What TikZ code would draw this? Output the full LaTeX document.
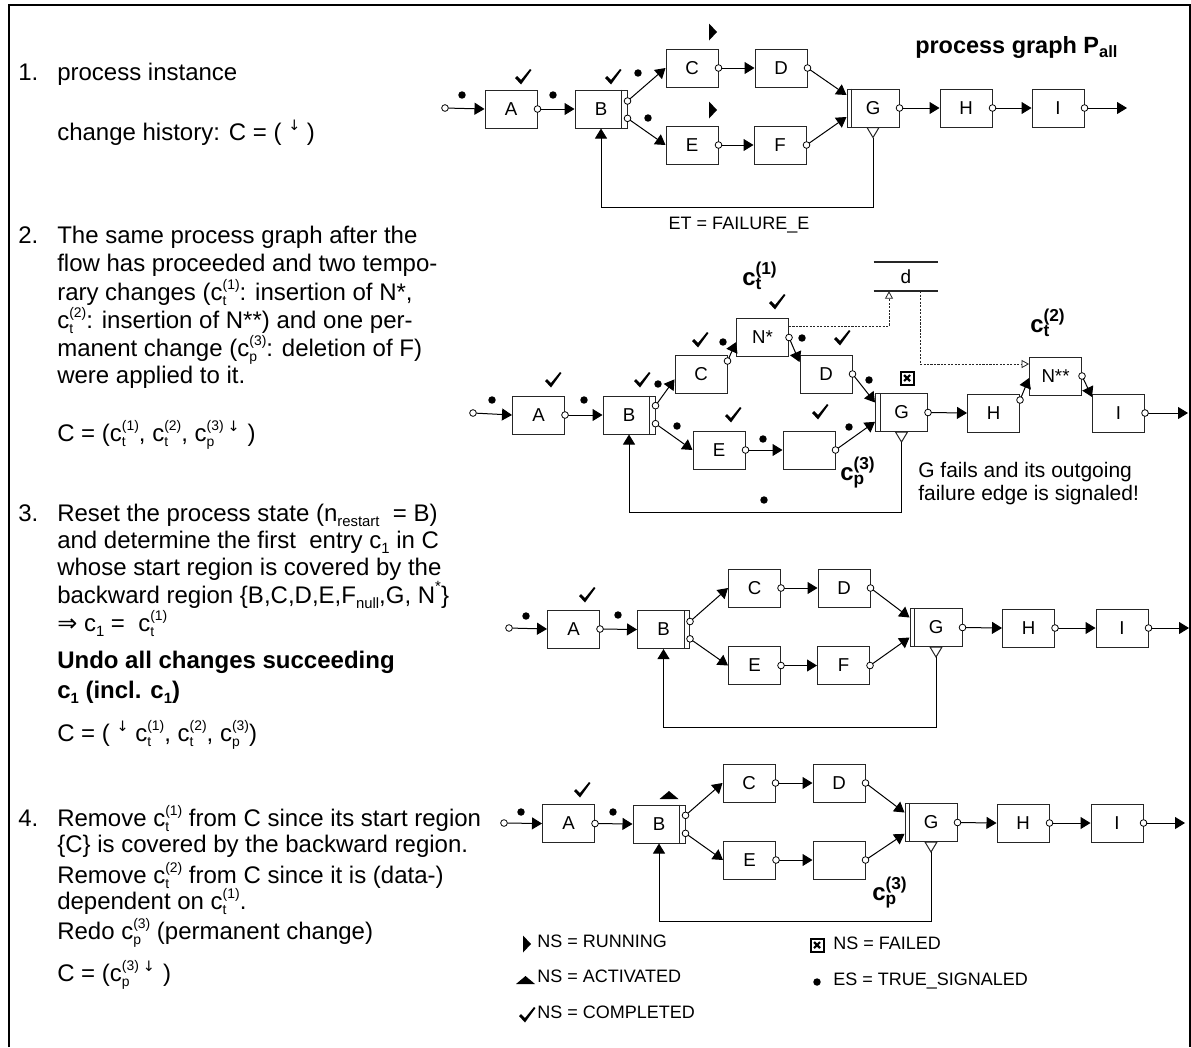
\documentclass[tikz,border=0pt]{standalone}
\usepackage{fontspec}
\setmainfont{Liberation Sans}
\newfontfamily\djv{DejaVu Sans}
\usetikzlibrary{arrows.meta}
\makeatletter
% smaller size relative to the current one
\newcommand\scs[1][0.6]{\fontsize{\fpeval{round(#1*\f@size,2)}}{0}\selectfont}
\makeatother
% stacked subscript / superscript after a letter
\newcommand\supsub[3][0.58]{\begingroup
  \setbox0=\hbox{\scs[#1]#2}\setbox2=\hbox{\scs[#1]#3}%
  \ifdim\wd0>\wd2 \dimen0=\wd0 \else \dimen0=\wd2 \fi
  \rlap{\lower0.2em\box0}\rlap{\raise0.45em\box2}\hskip\dimen0\endgroup}
\newcommand\sbs[2][0.62]{\lower0.2em\hbox{\scs[#1]#2}}
\newcommand\sps[2][0.62]{\raise0.5em\hbox{\scs[#1]#2}}
\newcommand\dn{\raise0.42em\hbox{\scs[0.6]\djv ↓}}
\begin{document}
\begin{tikzpicture}[x=0.75pt,y=-0.75pt,
  pbox/.style={draw=black!85,line width=0.75pt,minimum width=39pt,minimum height=28.5pt,
    inner sep=0pt,font=\fontsize{14}{16}\selectfont},
  bar/.style={draw=black!85,line width=0.75pt},
  port/.style={circle,draw=black,fill=white,line width=0.6pt,inner sep=0pt,minimum size=5pt},
  flow/.style={draw=black,line width=0.75pt,-{Triangle[length=7.5pt,width=9pt]}},
  dep/.style={draw=black!85,line width=0.6pt,dash pattern=on 1.6pt off 1pt,
    -{Triangle[open,length=5.5pt,width=6pt,fill=white]}},
  txt/.style={anchor=base west,inner sep=0pt,font=\fontsize{18}{20}\selectfont},
  btxt/.style={anchor=base west,inner sep=0pt,font=\bfseries\fontsize{18}{20}\selectfont},
  lg/.style={anchor=base west,inner sep=0pt,font=\fontsize{13.5}{15}\selectfont},
  lab/.style={anchor=base west,inner sep=0pt,font=\bfseries\fontsize{18}{20}\selectfont},
  chkmark/.pic={\fill (-8,1) -- (-6,-1) -- (-2,3) -- (7,-8) -- (8.5,-7) -- (-2,7.5) -- cycle;},
  runmark/.pic={\fill (-4,-8.5) -- (4,0) -- (-4,8.5) -- cycle;},
  actmark/.pic={\fill (-9.5,4) -- (9.5,4) -- (0,-4) -- cycle;},
  failmark/.pic={\draw[line width=1.5pt] (-6.5,-6.5) rectangle (6.5,6.5);
    \draw[line width=1.6pt] (-3,-3) -- (3,3) (-3,3) -- (3,-3);},
]
\useasboundingbox (0,0) rectangle (1191,1047);
% frame
\draw[line width=1.9pt] (9,1047) -- (9,5) -- (1190,5) -- (1190,1047);

% ---------------- left column text ----------------
\node[txt] (n1) at (18,80.5) {1.};
\node[txt] (t1a) at (57,80.5) {process instance};
\node[txt] (t1b) at (57,140.5) {change history: C = ( \dn\ )};

\node[txt] (n2) at (18,243.5) {2.};
\node[txt] (t2a) at (57,243.5) {The same process graph after the};
\node[txt] (t2b) at (57,271.5) {flow has proceeded and two tempo-};
\node[txt] (t2c) at (57,300.5) {rary changes (c\supsub{t}{(1)}: insertion of N*,};
\node[txt] (t2d) at (57,328.5) {c\supsub{t}{(2)}: insertion of N**) and one per-};
\node[txt] (t2e) at (57,356.5) {manent change (c\supsub{p}{(3)}: deletion of F)};
\node[txt] (t2f) at (57,383.5) {were applied to it.};
\node[txt] (t2g) at (57,441.5) {C = (c\supsub{t}{(1)}, c\supsub{t}{(2)}, c\supsub{p}{(3)}\,\dn\,\,)};

\node[txt] (n3) at (18,521.5) {3.};
\node[txt] (t3a) at (57,521.5) {Reset the process state (n\sbs{restart}\ \ = B)};
\node[txt] (t3b) at (57,548.5) {and determine the first\ \ entry c\sbs{1} in C};
\node[txt] (t3c) at (57,575.5) {whose start region is covered by the};
\node[txt] (t3d) at (57,603.5) {backward region \{B,C,D,E,F\sbs{null},G, N\sps{*}\}};
\node[txt] (t3e) at (57,631.5) {{\djv ⇒} c\sbs{1} =\ \ c\supsub{t}{(1)}};
\node[btxt] (t3f) at (57,668.5) {Undo all changes succeeding};
\node[btxt] (t3g) at (57,698.5) {c\sbs{1} (incl. c\sbs{1})};
\node[txt] (t3h) at (57,741.5) {C = ( \dn\ c\supsub{t}{(1)}, c\supsub{t}{(2)}, c\supsub{p}{(3)})};

\node[txt] (n4) at (18,826.5) {4.};
\node[txt] (t4a) at (57,826.5) {Remove c\supsub{t}{(1)} from C since its start region};
\node[txt] (t4b) at (57,852.5) {\{C\} is covered by the backward region.};
\node[txt] (t4c) at (57,883.5) {Remove c\supsub{t}{(2)} from C since it is (data-)};
\node[txt] (t4d) at (57,909.5) {dependent on c\supsub{t}{(1)}.};
\node[txt] (t4e) at (57,939.5) {Redo c\supsub{p}{(3)} (permanent change)};
\node[txt] (t4f) at (57,981.5) {C = (c\supsub{p}{(3)}\,\dn\,\,)};

% ---------------- graph 1: process graph P_all ----------------
\node[lab,font=\bfseries\fontsize{17.6}{20}\selectfont] (ttl) at (915,53) {process graph P\sbs[0.7]{all}};
\node[port] (s1) at (445,108) {};
\node[pbox] (A1) at (511,109) {A};
\node[pbox] (B1) at (601,109) {B};
\node[pbox] (C1) at (692,68) {C};
\node[pbox] (D1) at (781,68) {D};
\node[pbox] (E1) at (692,145) {E};
\node[pbox] (F1) at (780,145) {F};
\node[pbox] (G1) at (873,108) {G};
\node[pbox] (H1) at (966,108) {H};
\node[pbox] (I1) at (1058,108) {I};
\coordinate (z1) at (1127,108);
\draw[bar] ([xshift=-4.5pt]B1.north east) -- ([xshift=-4.5pt]B1.south east);
\draw[bar] ([xshift=4pt]G1.north west) -- ([xshift=4pt]G1.south west);
\draw[flow] (s1) -- (A1.west);
\draw[flow] (A1.east) -- (B1.west);
\draw[flow] ([yshift=6pt]B1.east) -- (C1.west);
\draw[flow] ([yshift=-7pt]B1.east) -- (E1.west);
\draw[flow] (C1.east) -- (D1.west);
\draw[flow] (E1.east) -- (F1.west);
\draw[flow] (D1.east) -- ([yshift=9.75pt]G1.west);
\draw[flow] (F1.east) -- ([yshift=-6.75pt]G1.west);
\draw[flow] (G1.east) -- (H1.west);
\draw[flow] (H1.east) -- (I1.west);
\draw[flow] (I1.east) -- (z1);
\draw[bar,fill=white] (G1.south) +(-6,0) -- +(6,0) -- +(0,10) -- cycle;
\coordinate (G1t) at ([yshift=-7.5pt]G1.south);
\draw[flow] (G1t) -- ++(0,70) -| (B1.south);
\foreach \n/\a/\s in {A1o/A1/0pt,B1u/B1/6pt,B1d/B1/-7pt,C1o/C1/0pt,D1o/D1/0pt,
  E1o/E1/0pt,F1o/F1/0pt,G1o/G1/0pt,H1o/H1/0pt,I1o/I1/0pt}
  \node[port] (\n) at ([yshift=\s]\a.east) {};
\node[lg,anchor=center] (et) at (739,225) {ET = FAILURE\_E};
\pic at (523,77) {chkmark};
\pic at (613,77) {chkmark};
\pic at (713,32) {runmark};
\pic at (713,110) {runmark};
\foreach \p in {(462,95),(553,95),(638,73),(648,118)} \fill \p circle (2.8pt);

% ---------------- graph 2: after temporary and permanent changes ----------------
\node[port] (s2) at (473,413) {};
\node[pbox] (A2) at (538.5,415) {A};
\node[pbox] (B2) at (629,415) {B};
\node[pbox] (C2) at (701,374) {C};
\node[pbox] (N1) at (762.5,337.5) {N*};
\node[pbox] (D2) at (826,374) {D};
\node[pbox] (E2) at (719,450) {E};
\node[pbox] (X2) at (809,450) {};
\node[pbox] (G2) at (901.5,412.5) {G};
\node[pbox] (H2) at (993.5,413) {H};
\node[pbox] (N2) at (1055.5,376) {N**};
\node[pbox] (I2) at (1118.5,413) {I};
\coordinate (z2) at (1188,413);
\draw[bar] ([xshift=-4.5pt]B2.north east) -- ([xshift=-4.5pt]B2.south east);
\draw[bar] ([xshift=4pt]G2.north west) -- ([xshift=4pt]G2.south west);
\draw[flow] (s2) -- (A2.west);
\draw[flow] (A2.east) -- (B2.west);
\draw[flow] ([yshift=7pt]B2.east) -- ([yshift=-4pt]C2.west);
\draw[flow] ([yshift=-6.5pt]B2.east) -- (E2.west);
\draw[flow] ([yshift=9.75pt]C2.east) -- ([yshift=-3.5pt]N1.west);
\draw[flow] (N1.east) -- ([yshift=9pt]D2.west);
\draw[flow] (D2.east) -- ([yshift=7.5pt]G2.west);
\draw[flow] (E2.east) -- (X2.west);
\draw[flow] (X2.east) -- ([yshift=-7pt]G2.west);
\draw[flow] (G2.east) -- (H2.west);
\draw[flow] ([yshift=9.75pt]H2.east) -- ([yshift=-1.5pt]N2.west);
\draw[flow] (N2.east) -- ([yshift=12pt]I2.west);
\draw[flow] (I2.east) -- (z2);
\draw[bar,fill=white] (G2.south) +(-6,0) -- +(6,0) -- +(0,10) -- cycle;
\coordinate (G2t) at ([yshift=-7.5pt]G2.south);
\draw[flow] (G2t) -- ++(0,70) -| (B2.south);
\foreach \n/\a/\s in {A2o/A2/0pt,B2u/B2/7pt,B2d/B2/-6.5pt,C2o/C2/9.75pt,N1o/N1/0pt,
  D2o/D2/0pt,E2o/E2/0pt,X2o/X2/0pt,G2o/G2/0pt,H2o/H2/9.75pt,N2o/N2/0pt,I2o/I2/0pt}
  \node[port] (\n) at ([yshift=\s]\a.east) {};
% data element d and its data edges
\node[minimum width=48pt,minimum height=21.75pt,inner sep=0pt,font=\fontsize{14.25}{16}\selectfont] (dat) at (906,276.5) {d};
\draw[line width=1.3pt,black!85] (dat.north west) -- (dat.north east);
\draw[line width=1.3pt,black!85] (dat.south west) -- (dat.south east);
\draw[dep] ([yshift=8.6pt]N1.east) -| ([xshift=-12.75pt]dat.south);
\draw[dep] ([xshift=10.5pt]dat.south) |- ([yshift=9pt]N2.west);
\node[lab] (ct1) at (742,285) {c\supsub[0.72]{t}{(1)}};
\node[lab] (ct2) at (1030,332) {c\supsub[0.72]{t}{(2)}};
\node[lab] (cp3) at (840,480) {c\supsub[0.72]{p}{(3)}};
\node[anchor=base west,inner sep=0pt,font=\fontsize{15.75}{18}\selectfont] (gf1) at (918,477) {G fails and its outgoing};
\node[anchor=base west,inner sep=0pt,font=\fontsize{15.75}{18}\selectfont] (gf2) at (918,500) {failure edge is signaled!};
\pic at (907,378) {failmark};
\foreach \p in {(553,380),(642,380),(700,340),(777,302),(842,338),(733,415),(820,412)}
  \pic at \p {chkmark};
\foreach \p in {(492,400),(584,400),(658,384),(723,342),(802,338),(677,426),(763,439),
  (869,380),(849,427),(764,500)} \fill \p circle (2.8pt);

% ---------------- graph 3: state reset ----------------
\node[port] (s3) at (509,628) {};
\node[pbox] (A3) at (573.5,629) {A};
\node[pbox] (B3) at (663.5,629.5) {B};
\node[pbox] (C3) at (754.5,588) {C};
\node[pbox] (D3) at (844,588) {D};
\node[pbox] (E3) at (754.5,665.5) {E};
\node[pbox] (F3) at (843.5,665.5) {F};
\node[pbox] (G3) at (936,627.5) {G};
\node[pbox] (H3) at (1028.5,628) {H};
\node[pbox] (I3) at (1122,628) {I};
\coordinate (z3) at (1189,628);
\draw[bar] ([xshift=-4.5pt]B3.north east) -- ([xshift=-4.5pt]B3.south east);
\draw[bar] ([xshift=4pt]G3.north west) -- ([xshift=4pt]G3.south west);
\draw[flow] (s3) -- (A3.west);
\draw[flow] (A3.east) -- (B3.west);
\draw[flow] ([yshift=6pt]B3.east) -- (C3.west);
\draw[flow] ([yshift=-7pt]B3.east) -- (E3.west);
\draw[flow] (C3.east) -- (D3.west);
\draw[flow] (E3.east) -- (F3.west);
\draw[flow] (D3.east) -- ([yshift=7.5pt]G3.west);
\draw[flow] (F3.east) -- ([yshift=-7.5pt]G3.west);
\draw[flow] (G3.east) -- (H3.west);
\draw[flow] (H3.east) -- (I3.west);
\draw[flow] (I3.east) -- (z3);
\draw[bar,fill=white] (G3.south) +(-6,0) -- +(6,0) -- +(0,10) -- cycle;
\coordinate (G3t) at ([yshift=-7.5pt]G3.south);
\draw[flow] (G3t) -- ++(0,70) -| (B3.south);
\foreach \n/\a/\s in {A3o/A3/0pt,B3u/B3/6pt,B3d/B3/-7pt,C3o/C3/0pt,D3o/D3/0pt,
  E3o/E3/0pt,F3o/F3/0pt,G3o/G3/0pt,H3o/H3/0pt,I3o/I3/0pt}
  \node[port] (\n) at ([yshift=\s]\a.east) {};
\pic at (587,595) {chkmark};
\foreach \p in {(526,616),(618,615)} \fill \p circle (2.8pt);

% ---------------- graph 4: after redo of the permanent change ----------------
\node[port] (s4) at (504,823) {};
\node[pbox] (A4) at (568.5,823.5) {A};
\node[pbox] (B4) at (659,824) {B};
\node[pbox] (C4) at (749,783) {C};
\node[pbox] (D4) at (839,783) {D};
\node[pbox] (E4) at (749.5,860) {E};
\node[pbox] (X4) at (839,860) {};
\node[pbox] (G4) at (931,822.5) {G};
\node[pbox] (H4) at (1023,823) {H};
\node[pbox] (I4) at (1117,823) {I};
\coordinate (z4) at (1185,823);
\draw[bar] ([xshift=-4.5pt]B4.north east) -- ([xshift=-4.5pt]B4.south east);
\draw[bar] ([xshift=4pt]G4.north west) -- ([xshift=4pt]G4.south west);
\draw[flow] (s4) -- (A4.west);
\draw[flow] (A4.east) -- (B4.west);
\draw[flow] ([yshift=6.5pt]B4.east) -- (C4.west);
\draw[flow] ([yshift=-7pt]B4.east) -- (E4.west);
\draw[flow] (C4.east) -- (D4.west);
\draw[flow] (E4.east) -- (X4.west);
\draw[flow] (D4.east) -- ([yshift=7.5pt]G4.west);
\draw[flow] (X4.east) -- ([yshift=-8.5pt]G4.west);
\draw[flow] (G4.east) -- (H4.west);
\draw[flow] (H4.east) -- (I4.west);
\draw[flow] (I4.east) -- (z4);
\draw[bar,fill=white] (G4.south) +(-6,0) -- +(6,0) -- +(0,10) -- cycle;
\coordinate (G4t) at ([yshift=-7.5pt]G4.south);
\draw[flow] (G4t) -- ++(0,69) -| (B4.south);
\foreach \n/\a/\s in {A4o/A4/0pt,B4u/B4/6.5pt,B4d/B4/-7pt,C4o/C4/0pt,D4o/D4/0pt,
  E4o/E4/0pt,X4o/X4/0pt,G4o/G4/0pt,H4o/H4/0pt,I4o/I4/0pt}
  \node[port] (\n) at ([yshift=\s]\a.east) {};
\node[lab] (cp3b) at (872,900) {c\supsub[0.72]{p}{(3)}};
\pic at (582,790) {chkmark};
\pic at (669,795) {actmark};
\foreach \p in {(521,812),(613,812)} \fill \p circle (2.8pt);

% ---------------- legend ----------------
\pic at (527,944) {runmark};
\node[lg] (lg1) at (537,947) {NS = RUNNING};
\pic at (525.5,980) {actmark};
\node[lg] (lg2) at (537,982) {NS = ACTIVATED};
\pic at (527,1015) {chkmark};
\node[lg] (lg3) at (537,1018) {NS = COMPLETED};
\pic at (817,945) {failmark};
\node[lg] (lg4) at (833,949) {NS = FAILED};
\fill (817,982) circle (2.8pt);
\node[lg] (lg5) at (833,985) {ES = TRUE\_SIGNALED};
\end{tikzpicture}
\end{document}
